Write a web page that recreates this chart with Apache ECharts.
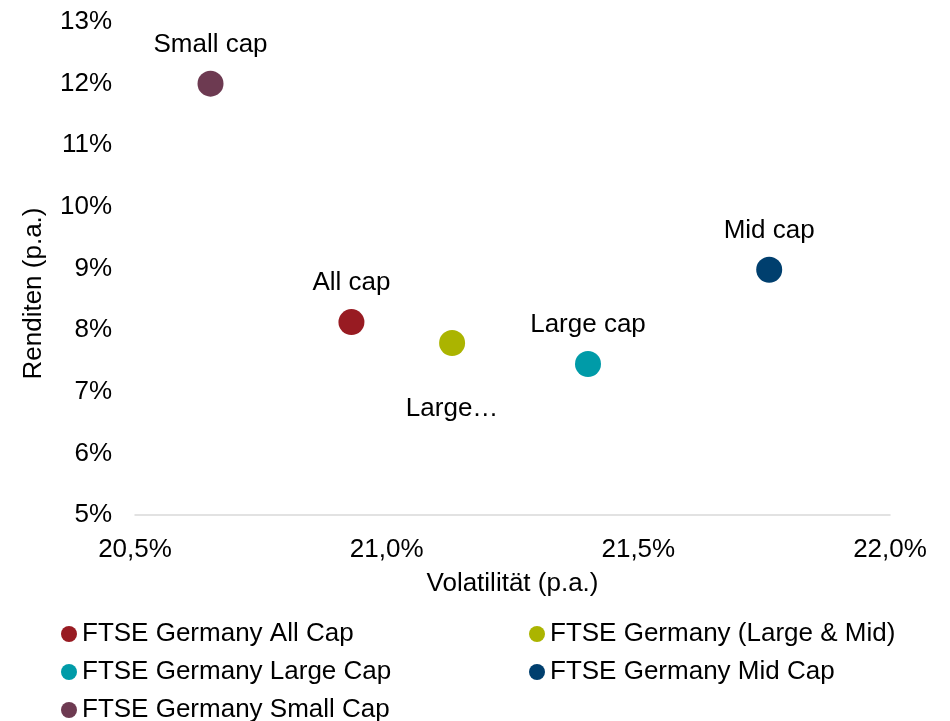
<!DOCTYPE html>
<html>
<head>
<meta charset="utf-8">
<script src="https://cdn.jsdelivr.net/npm/echarts@6/dist/echarts.min.js"></script>
<style>
html,body{margin:0;padding:0;background:#fff;}
#chart{width:950px;height:721px;}
</style>
</head>
<body>
<div id="chart"></div>
<script>
// Data
var seriesNames = ['FTSE Germany All Cap', 'FTSE Germany (Large & Mid)', 'FTSE Germany Large Cap', 'FTSE Germany Mid Cap', 'FTSE Germany Small Cap'];
var pointLabels = ['All cap', 'Large\u2026', 'Large cap', 'Mid cap', 'Small cap'];
var volatility = [20.93, 21.13, 21.40, 21.76, 20.65];
var returns = [8.13, 7.79, 7.45, 8.98, 12.00];
var xTicks = [20.5, 21.0, 21.5, 22.0];
var yTicks = [5, 6, 7, 8, 9, 10, 11, 12, 13];

// Styles
var colors = ['#981b22', '#abb400', '#009ba8', '#003f6e', '#6d3a51'];
var labelPlace = ['top', 'bottom', 'top', 'top', 'top'];
var labelDist = [13, 40, 13, 13, 13];
var legendPos = [[61, 621], [529, 621], [61, 659], [529, 659], [61, 697]];
var FONT = '"Liberation Sans", Arial, sans-serif';
var FS = 26;

var series = seriesNames.map(function (n, i) {
  return {
    name: n,
    type: 'scatter',
    symbol: 'circle',
    symbolSize: 26,
    itemStyle: { color: colors[i], opacity: 1 },
    label: {
      show: true,
      position: labelPlace[i],
      distance: labelDist[i],
      formatter: pointLabels[i],
      color: '#000',
      fontFamily: FONT,
      fontSize: FS
    },
    emphasis: { disabled: true },
    data: [[volatility[i], returns[i]]]
  };
});

var legendText = { color: '#000', fontFamily: FONT, fontSize: FS };
var legends = seriesNames.map(function (n, i) {
  return {
    data: [n],
    orient: 'horizontal', left: legendPos[i][0], top: legendPos[i][1],
    padding: 0, icon: 'circle', itemWidth: 16, itemHeight: 16,
    textStyle: legendText, selectedMode: false
  };
});

var chart = echarts.init(document.getElementById('chart'));
chart.setOption({
  animation: false,
  color: colors,
  textStyle: { fontFamily: FONT },
  grid: { left: 135, right: 60, top: 22, bottom: 206, containLabel: false },
  xAxis: {
    type: 'value',
    min: xTicks[0], max: xTicks[xTicks.length - 1], interval: 0.5,
    name: 'Volatilität (p.a.)',
    nameLocation: 'middle',
    nameGap: 56,
    nameTextStyle: { color: '#000', fontFamily: FONT, fontSize: FS },
    axisLine: { show: true, lineStyle: { color: '#d9d9d9', width: 1.5 } },
    axisTick: { show: false },
    splitLine: { show: false },
    axisLabel: {
      color: '#000', fontFamily: FONT, fontSize: FS, margin: 22,
      formatter: function (v) { return v.toFixed(1).replace('.', ',') + '%'; }
    }
  },
  yAxis: {
    type: 'value',
    min: yTicks[0], max: yTicks[yTicks.length - 1], interval: 1,
    name: 'Renditen (p.a.)',
    nameLocation: 'middle',
    nameGap: 88,
    nameTextStyle: { color: '#000', fontFamily: FONT, fontSize: FS, padding: [0, 50, 0, 0] },
    axisLine: { show: false },
    axisTick: { show: false },
    splitLine: { show: false },
    axisLabel: {
      color: '#000', fontFamily: FONT, fontSize: FS, margin: 23,
      formatter: function (v) { return v + '%'; }
    }
  },
  legend: legends,
  series: series
});
</script>
</body>
</html>
